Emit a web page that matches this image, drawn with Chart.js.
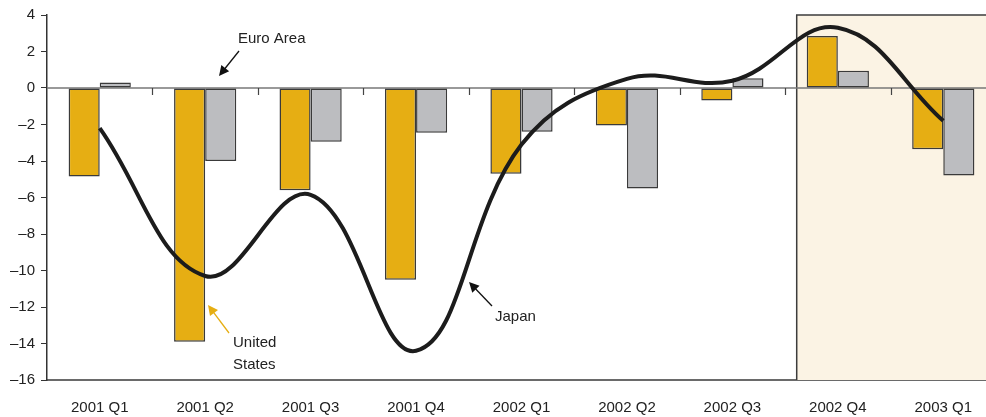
<!DOCTYPE html>
<html lang="en">
<head>
    <meta charset="UTF-8">
    <title>Output gap: United States, Euro Area, Japan</title>
    <script src="https://cdn.jsdelivr.net/npm/chart.js"></script>
    <style>
        html, body {
            margin: 0;
            padding: 0;
            background: #ffffff;
            overflow: hidden;
        }
        #wrap {
            width: 996px;
            height: 417px;
        }
        canvas {
            display: block;
        }
    </style>
</head>
<body>

<div id="wrap">
    <canvas id="chart" width="996" height="417"></canvas>
</div>

<script>
// quarters on the x axis
const quarters = ['2001 Q1', '2001 Q2', '2001 Q3', '2001 Q4', '2002 Q1', '2002 Q2', '2002 Q3', '2002 Q4', '2003 Q1'];

// values
const unitedStates = [-4.85, -13.9, -5.6, -10.5, -4.7, -2.05, -0.68, 2.85, -3.35];
const euroArea = [0.3, -4.0, -2.95, -2.45, -2.4, -5.5, 0.53, 0.95, -4.8];
const japan = [-2.2, -10.3, -5.85, -14.4, -3.1, 0.5, 0.4, 3.3, -1.8];

const yMin = -16;
const yMax = 4;
const yStep = 2;

const FONT = '"Liberation Sans", Arial, sans-serif';

// shaded forecast box, zero line and its little ticks
const backdrop = {
    id: 'backdrop',
    beforeDatasetsDraw(chart) {
        const ctx = chart.ctx;
        const area = chart.chartArea;
        const x = chart.scales.x;
        const y = chart.scales.y;
        const y0 = y.getPixelForValue(0);

        // shaded area from late 2002 Q3
        const left = x.getPixelForValue(6.61);
        ctx.save();
        ctx.fillStyle = '#fbf3e4';
        ctx.fillRect(left, area.top, area.right - left, area.bottom - area.top);
        ctx.strokeStyle = '#3c3c3c';
        ctx.lineWidth = 1.5;
        ctx.beginPath();
        ctx.moveTo(left, area.bottom);
        ctx.lineTo(left, area.top);
        ctx.lineTo(area.right + 2, area.top);
        ctx.stroke();

        // zero line
        ctx.strokeStyle = '#777777';
        ctx.lineWidth = 1.5;
        ctx.beginPath();
        ctx.moveTo(area.left, y0);
        ctx.lineTo(area.right, y0);
        ctx.stroke();

        // ticks between quarters, hanging from the zero line
        ctx.strokeStyle = '#444444';
        ctx.lineWidth = 1.2;
        for (let i = 1; i < quarters.length; i++) {
            const px = Math.round(x.getPixelForValue(i - 0.5)) + 0.5;
            ctx.beginPath();
            ctx.moveTo(px, y0);
            ctx.lineTo(px, y0 + 7);
            ctx.stroke();
        }
        ctx.restore();
    }
};

function arrow(ctx, x1, y1, x2, y2, color) {
    const ang = Math.atan2(y2 - y1, x2 - x1);
    const len = 10;
    const wid = 5;
    ctx.save();
    ctx.strokeStyle = color;
    ctx.fillStyle = color;
    ctx.lineWidth = 1.3;
    ctx.beginPath();
    ctx.moveTo(x1, y1);
    ctx.lineTo(x2 - Math.cos(ang) * len * 0.8, y2 - Math.sin(ang) * len * 0.8);
    ctx.stroke();
    ctx.beginPath();
    ctx.moveTo(x2, y2);
    ctx.lineTo(x2 - Math.cos(ang) * len + Math.sin(ang) * wid, y2 - Math.sin(ang) * len - Math.cos(ang) * wid);
    ctx.lineTo(x2 - Math.cos(ang) * len - Math.sin(ang) * wid, y2 - Math.sin(ang) * len + Math.cos(ang) * wid);
    ctx.closePath();
    ctx.fill();
    ctx.restore();
}

// series labels with their arrows
const labels = {
    id: 'labels',
    afterDatasetsDraw(chart) {
        const ctx = chart.ctx;
        ctx.save();
        ctx.font = '15px ' + FONT;
        ctx.fillStyle = '#222222';
        ctx.textBaseline = 'middle';
        ctx.textAlign = 'left';

        ctx.fillText('Euro Area', 238, 39);
        ctx.fillText('United', 233, 343);
        ctx.fillText('States', 233, 365);
        ctx.fillText('Japan', 495, 317);

        arrow(ctx, 239, 51, 219, 76, '#111111');
        arrow(ctx, 229, 333, 208, 305, '#e6ae13');
        arrow(ctx, 492, 306, 469, 282, '#111111');
        ctx.restore();
    }
};

new Chart(document.getElementById('chart'), {
    type: 'bar',
    data: {
        labels: quarters,
        datasets: [
            {
                type: 'line',
                label: 'Japan',
                data: japan,
                borderColor: '#1c1c1c',
                borderWidth: 4,
                pointRadius: 0,
                tension: 0.4,
                fill: false,
                order: 0
            },
            {
                label: 'United States',
                data: unitedStates,
                backgroundColor: '#e6ae13',
                borderColor: '#3a3a3a',
                borderWidth: 1.5,
                borderSkipped: false,
                order: 1
            },
            {
                label: 'Euro Area',
                data: euroArea,
                backgroundColor: '#bcbdc0',
                borderColor: '#3a3a3a',
                borderWidth: 1.5,
                borderSkipped: false,
                order: 1
            }
        ]
    },
    options: {
        responsive: false,
        animation: false,
        categoryPercentage: 0.59,
        barPercentage: 1.0,
        layout: {
            padding: { top: 0, right: 0, left: 0, bottom: 0 }
        },
        plugins: {
            legend: { display: false },
            tooltip: { enabled: false }
        },
        scales: {
            x: {
                grid: { display: false, drawTicks: false },
                border: { display: true, color: '#6a6a6a', width: 2 },
                ticks: {
                    color: '#222222',
                    font: { family: FONT, size: 15 },
                    padding: 19,
                    maxRotation: 0,
                    autoSkip: false
                },
                afterFit: scale => { scale.height = 37; }
            },
            y: {
                min: yMin,
                max: yMax,
                grid: {
                    drawOnChartArea: false,
                    drawTicks: true,
                    tickLength: 6,
                    color: '#333333'
                },
                border: { display: true, color: '#333333', width: 1.5 },
                ticks: {
                    stepSize: yStep,
                    color: '#222222',
                    font: { family: FONT, size: 15 },
                    padding: 6,
                    callback: v => (v < 0 ? '\u2013' + Math.abs(v) : String(v))
                },
                afterFit: scale => { scale.width = 47; }
            }
        }
    },
    plugins: [backdrop, labels]
});
</script>

</body>
</html>
